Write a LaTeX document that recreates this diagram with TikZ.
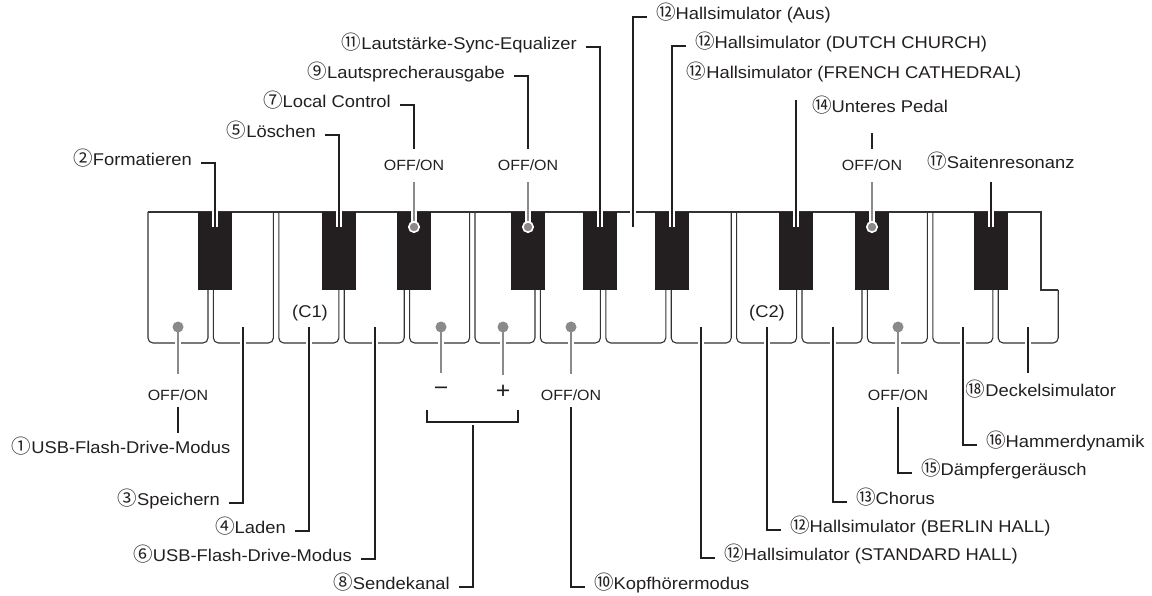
\documentclass[tikz,border=0pt]{standalone}
\usepackage{fontspec}
\setmainfont{Liberation Sans}[FakeStretch=1.08]
\newfontfamily\cjk{Noto Sans CJK JP}
\usepackage{tikz}
\definecolor{ink}{HTML}{231F20}
\definecolor{pin}{HTML}{8A8A8A}
\definecolor{rim}{HTML}{333333}
\newcommand{\nr}[1]{{\fontsize{19.5}{20}\cjk #1}}

\begin{document}
\begin{tikzpicture}[x=1pt, y=-1pt,
	every node/.style={inner sep=0pt, text=ink},
	lbl/.style={font=\fontsize{17}{20}\selectfont, text height=13pt, text depth=4pt},
	onoff/.style={font=\fontsize{14.8}{17}\selectfont, text height=10.8pt, text depth=0pt, anchor=base},
	sym/.style={font=\fontsize{23}{24}\selectfont},
	wkey/.style={draw=rim, line width=1.1pt},
	bkey/.style={fill=ink},
	lead/.style={draw=ink, line width=1.1pt, preaction={draw=white, line width=6pt}},
	stem/.style={draw=pin, line width=2.4pt, preaction={draw=white, line width=6.5pt}},
	wdot/.style={fill=pin},
	bdot/.style={fill=pin, draw=white, line width=1.6pt}]
	\useasboundingbox (0,0) rectangle (1152,596);

	\foreach \i in {0,...,12}
		\draw[wkey, rounded corners=5pt] ({148+65.4*\i},212) -- ({148+65.4*\i},343) -- ({208+65.4*\i},343) -- ({208+65.4*\i},212);
	\draw[wkey, rounded corners=5pt] (998.2,212) -- (998.2,343) -- (1058.2,343) -- (1058.2,290);
	\draw[wkey] (1058.2,290) -- (1041,290) -- (1041,212) -- (148,212);
	\foreach \c [count=\n] in {215,339,414,528,600,672,796,872,991} {
		\fill[bkey] (\c-16.75,212) rectangle (\c+16.75,290);
		\coordinate (b\n) at (\c,227);
	}
	\foreach \x [count=\n] in {178,243,309,375,441,503,571,636,701,767,833,898,963,1028}
		\coordinate (w\n) at (\x,327);
	\coordinate (top8) at (633,227);

	\node[lbl, anchor=base] (c1) at (310,317.3) {(C1)};
	\node[lbl, anchor=base] (c2) at (767,317.3) {(C2)};

	\node[lbl, anchor=mid east] (formatieren) at (192,163) {\nr{②}Formatieren};
	\node[lbl, anchor=mid east] (loeschen) at (316,135) {\nr{⑤}Löschen};
	\node[lbl, anchor=mid east] (localctl) at (391,105) {\nr{⑦}Local Control};
	\node[lbl, anchor=mid east] (lspausg) at (505,76) {\nr{⑨}Lautsprecherausgabe};
	\node[lbl, anchor=mid east] (lsync) at (577,47) {\nr{⑪}Lautstärke-Sync-Equalizer};
	\node[lbl, anchor=mid west] (hallaus) at (656,17) {\nr{⑫}Hallsimulator (Aus)};
	\node[lbl, anchor=mid west] (halldutch) at (695,46) {\nr{⑫}Hallsimulator (DUTCH CHURCH)};
	\node[lbl, anchor=base] (hallfrench) at (854,79) {\nr{⑫}Hallsimulator (FRENCH CATHEDRAL)};
	\node[lbl, anchor=base] (pedal) at (880,113) {\nr{⑭}Unteres Pedal};
	\node[lbl, anchor=base] (saiten) at (1001,169) {\nr{⑰}Saitenresonanz};
	\node[onoff] (oo7) at (414,170.7) {OFF/ON};
	\node[onoff] (oo9) at (528,170.7) {OFF/ON};
	\node[onoff] (oo14) at (872,170.7) {OFF/ON};

	\node[onoff] (oo1) at (178,400.7) {OFF/ON};
	\node[onoff] (oo10) at (571,400.7) {OFF/ON};
	\node[onoff] (oo15) at (898,400.7) {OFF/ON};
	\node[sym] (minus) at (441,391) {−};
	\node[sym] (plus) at (503,392) {+};
	\coordinate (brl) at (427,410);
	\coordinate (brr) at (518,410);
	\coordinate (brk) at (473,422);
	\node[lbl, anchor=base] (usb1) at (121,453) {\nr{①}USB-Flash-Drive-Modus};
	\node[lbl, anchor=mid east] (speichern) at (220,503) {\nr{③}Speichern};
	\node[lbl, anchor=mid east] (laden) at (286,531) {\nr{④}Laden};
	\node[lbl, anchor=mid east] (usb6) at (352,559) {\nr{⑥}USB-Flash-Drive-Modus};
	\node[lbl, anchor=mid east] (sendekanal) at (450,587) {\nr{⑧}Sendekanal};
	\node[lbl, anchor=mid west] (kopfhoerer) at (594,587) {\nr{⑩}Kopfhörermodus};
	\node[lbl, anchor=mid west] (hallstd) at (724,558) {\nr{⑫}Hallsimulator (STANDARD HALL)};
	\node[lbl, anchor=mid west] (hallberlin) at (790,530) {\nr{⑫}Hallsimulator (BERLIN HALL)};
	\node[lbl, anchor=mid west] (chorus) at (856,502) {\nr{⑬}Chorus};
	\node[lbl, anchor=mid west] (daempfer) at (921,473) {\nr{⑮}Dämpfergeräusch};
	\node[lbl, anchor=mid west] (hammer) at (986,445) {\nr{⑯}Hammerdynamik};
	\node[lbl, anchor=base] (deckel) at (1041,396.5) {\nr{⑱}Deckelsimulator};

	\draw[lead, shorten >=9pt] (b1) |- (formatieren.mid east);
	\draw[lead, shorten >=9pt] (b2) |- (loeschen.mid east);
	\draw[lead, shorten <=11pt, shorten >=9pt] (oo7.north) |- (localctl.mid east);
	\draw[lead, shorten <=11pt, shorten >=9pt] (oo9.north) |- (lspausg.mid east);
	\draw[lead, shorten >=9pt] (b5) |- (lsync.mid east);
	\draw[lead, shorten >=9pt] (top8) |- (hallaus.mid west);
	\draw[lead, shorten >=9pt] (b6) |- (halldutch.mid west);
	\draw[lead, shorten >=17pt] (b7) -- (b7 |- hallfrench.south);
	\draw[lead, shorten <=11pt, shorten >=16pt] (oo14.north) -- (oo14.north |- pedal.south);
	\draw[lead, shorten >=9pt] (b9) -- (b9 |- saiten.south);

	\draw[stem, shorten >=11pt] (b3) -- (oo7.south);
	\draw[stem, shorten >=11pt] (b4) -- (oo9.south);
	\draw[stem, shorten >=11pt] (b8) -- (oo14.south);
	\draw[stem, shorten >=16pt] (w1) -- (oo1.north);
	\draw[stem, shorten >=14pt] (w5) -- (minus.north);
	\draw[stem, shorten >=10pt] (w6) -- (plus.north);
	\draw[stem, shorten >=16pt] (w7) -- (oo10.north);
	\draw[stem, shorten >=16pt] (w12) -- (oo15.north);

	\draw[lead, shorten <=6pt, shorten >=7pt] (oo1.south) -- (oo1.south |- usb1.north);
	\draw[lead, shorten >=9pt] (w2) |- (speichern.mid east);
	\draw[lead, shorten >=9pt] (w3) |- (laden.mid east);
	\draw[lead, shorten >=9pt] (w4) |- (usb6.mid east);
	\draw[lead, shorten >=9pt] (brk) |- (sendekanal.mid east);
	\draw[lead] (brl) |- (brk) -| (brr);
	\draw[lead, shorten <=6pt, shorten >=9pt] (oo10.south) |- (kopfhoerer.mid west);
	\draw[lead, shorten >=9pt] (w9) |- (hallstd.mid west);
	\draw[lead, shorten >=9pt] (w10) |- (hallberlin.mid west);
	\draw[lead, shorten >=9pt] (w11) |- (chorus.mid west);
	\draw[lead, shorten <=6pt, shorten >=9pt] (oo15.south) |- (daempfer.mid west);
	\draw[lead, shorten >=9pt] (w13) |- (hammer.mid west);
	\draw[lead, shorten >=10pt] (w14) -- (w14 |- deckel.north);

	\foreach \p in {b3,b4,b8}
		\filldraw[bdot] (\p) circle (5.2pt);
	\foreach \p in {w1,w5,w6,w7,w12}
		\fill[wdot] (\p) circle (5.5pt);
\end{tikzpicture}
\end{document}
